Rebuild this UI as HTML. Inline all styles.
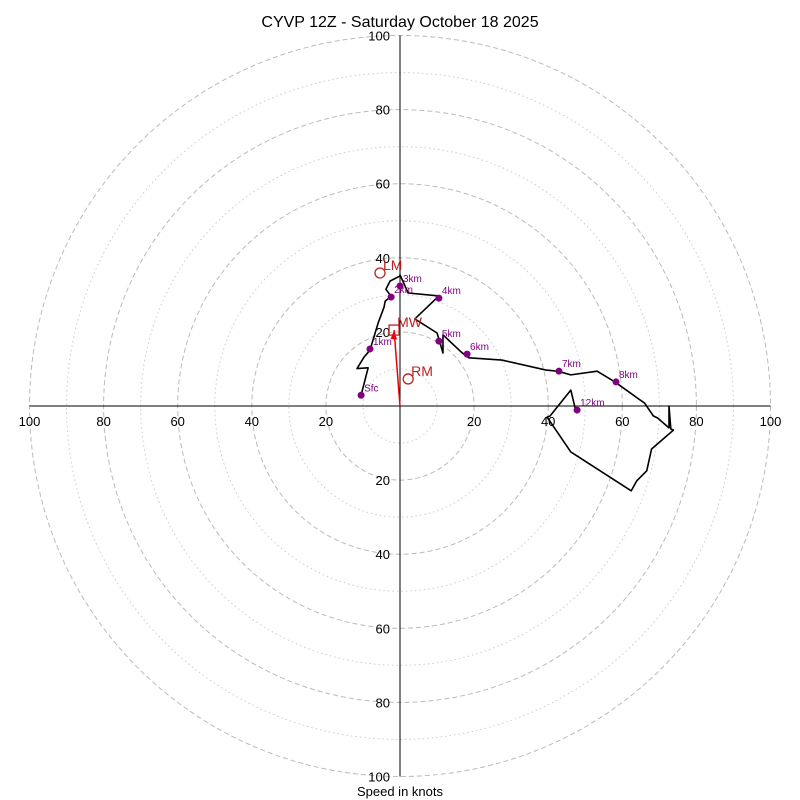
<!DOCTYPE html>
<html><head><meta charset="utf-8"><style>
body{margin:0;background:#fff}
svg{display:block;font-family:"Liberation Sans","DejaVu Sans",sans-serif}
</style></head><body>
<svg id="c" width="800" height="800">
<text x="400" y="27" text-anchor="middle" font-size="16">CYVP 12Z - Saturday October 18 2025</text>
<text x="400" y="796" text-anchor="middle" font-size="13">Speed in knots</text>
<g id="grid"></g><g id="marks"></g>
</svg>
<script>
// hodograph wind trace in knots (u, v)
const traceU=[-10.5,-8.6,-11.6,-9.7,-8.1,-5.9,-4.6,-4.3,-4.0,-2.4,-3.8,-2.7,0,0,2.2,10.5,4.0,10,11.6,11.6,16.5,17.8,18.6,27.5,39.4,42.6,46.1,53.2,58.0,64.0,66.0,68.4,69.5,72.6,72.6,73.1,73.8,67.9,66.6,63.9,62.4,46.1,39.7,40.5,46.1,47.4];
const traceV=[2.9,10.3,10.1,13.2,15.1,22.4,25.9,26.7,28.3,29.6,31.5,33.7,35.1,35.4,30.5,29.7,23.5,19.7,14.3,19.2,14.6,13.5,13.0,12.4,9.7,9.4,8.4,9.4,6.5,2.2,0.8,-2.7,-3.2,-5.9,0,-6.2,-6.5,-11.6,-17.5,-20.2,-22.9,-12.4,-3.0,-2.7,4.3,-1.1];
const kmLabels=["Sfc","1km","2km","3km","4km","5km","6km","7km","8km","12km"];
const kmU=[-10.5,-8.1,-2.4,0,10.5,10.5,18.1,42.9,58.3,47.8];
const kmV=[2.9,15.4,29.4,32.4,29.1,17.5,14.0,9.4,6.5,-1.1];
const stormU=[-5.4,-1.6,2.2]; // LM, MW, RM
const stormV=[35.9,20.5,7.3];
const ticks=[20,40,60,80,100];
const NS="http://www.w3.org/2000/svg";
const cx=400,cy=406,sc=3.705;
const X=u=>cx+u*sc, Y=v=>cy-v*sc;
function mk(t,p,a){const e=document.createElementNS(NS,t);for(const k in a)e.setAttribute(k,a[k]);p.appendChild(e);return e;}
const g=document.getElementById('grid'),m=document.getElementById('marks');
for(let r=10;r<=100;r+=10){
 const c=mk('circle',g,{cx:cx,cy:cy,r:r*sc,fill:'none',stroke:r%20?'#ccc':'#bbb','stroke-width':1,'stroke-dasharray':r%20?'1.5,3':'5,3'});
 
 
}
mk('line',g,{x1:X(-100),x2:X(100),y1:cy,y2:cy,stroke:'#000','stroke-width':1});
mk('line',g,{x1:cx,x2:cx,y1:Y(100),y2:Y(-100),stroke:'#000','stroke-width':1});
ticks.forEach(t=>{
 [[X(t),cy+20,'middle'],[X(-t),cy+20,'middle']].forEach(([x,y,a])=>{
  const e=mk('text',g,{x:x,y:y,'text-anchor':a,'font-size':13});e.textContent=t;
  
  
 });
 [Y(t),Y(-t)].forEach(y=>{
  const e=mk('text',g,{x:cx-10,y:y+5,'text-anchor':'end','font-size':13});e.textContent=t;
  
  
 });
});
// storm motion arrow
const ax=X(stormU[1]),ay=Y(stormV[1]);
const ar=mk('line',m,{x1:cx,y1:cy,x2:ax,y2:ay,stroke:'#e00','stroke-width':1.5});


const ah=mk('polygon',m,{points:`${ax},${ay} ${ax-3.5},${ay+9} ${ax+3},${ay+9.5}`,fill:'#e00'});


const tr=mk('polyline',m,{points:traceU.map((u,i)=>X(u)+','+Y(traceV[i])).join(' '),fill:'none',stroke:'#000','stroke-width':1.6,'stroke-linejoin':'round'});


kmLabels.forEach((l,i)=>{
 const c=mk('circle',m,{cx:X(kmU[i]),cy:Y(kmV[i]),r:3.5,fill:'#800080'});
 
 
 const t=mk('text',m,{x:X(kmU[i])+3,y:Y(kmV[i])-4,'font-size':10,fill:'#800080'});t.textContent=l;
 
 
});
const sl=["LM","MW","RM"];
sl.forEach((l,i)=>{
 const x=X(stormU[i]),y=Y(stormV[i]);
 let e;
 if(l==="MW") e=mk('rect',m,{x:x-5,y:y-5,width:10,height:10,fill:'none',stroke:'#b22','stroke-width':1.3});
 else e=mk('circle',m,{cx:x,cy:y,r:5,fill:'none',stroke:'#b22','stroke-width':1.3});
 
 
 const t=mk('text',m,{x:x+3,y:y-3,'font-size':14,fill:'#b22'});t.textContent=l;
 
 
});
</script>
</body></html>
